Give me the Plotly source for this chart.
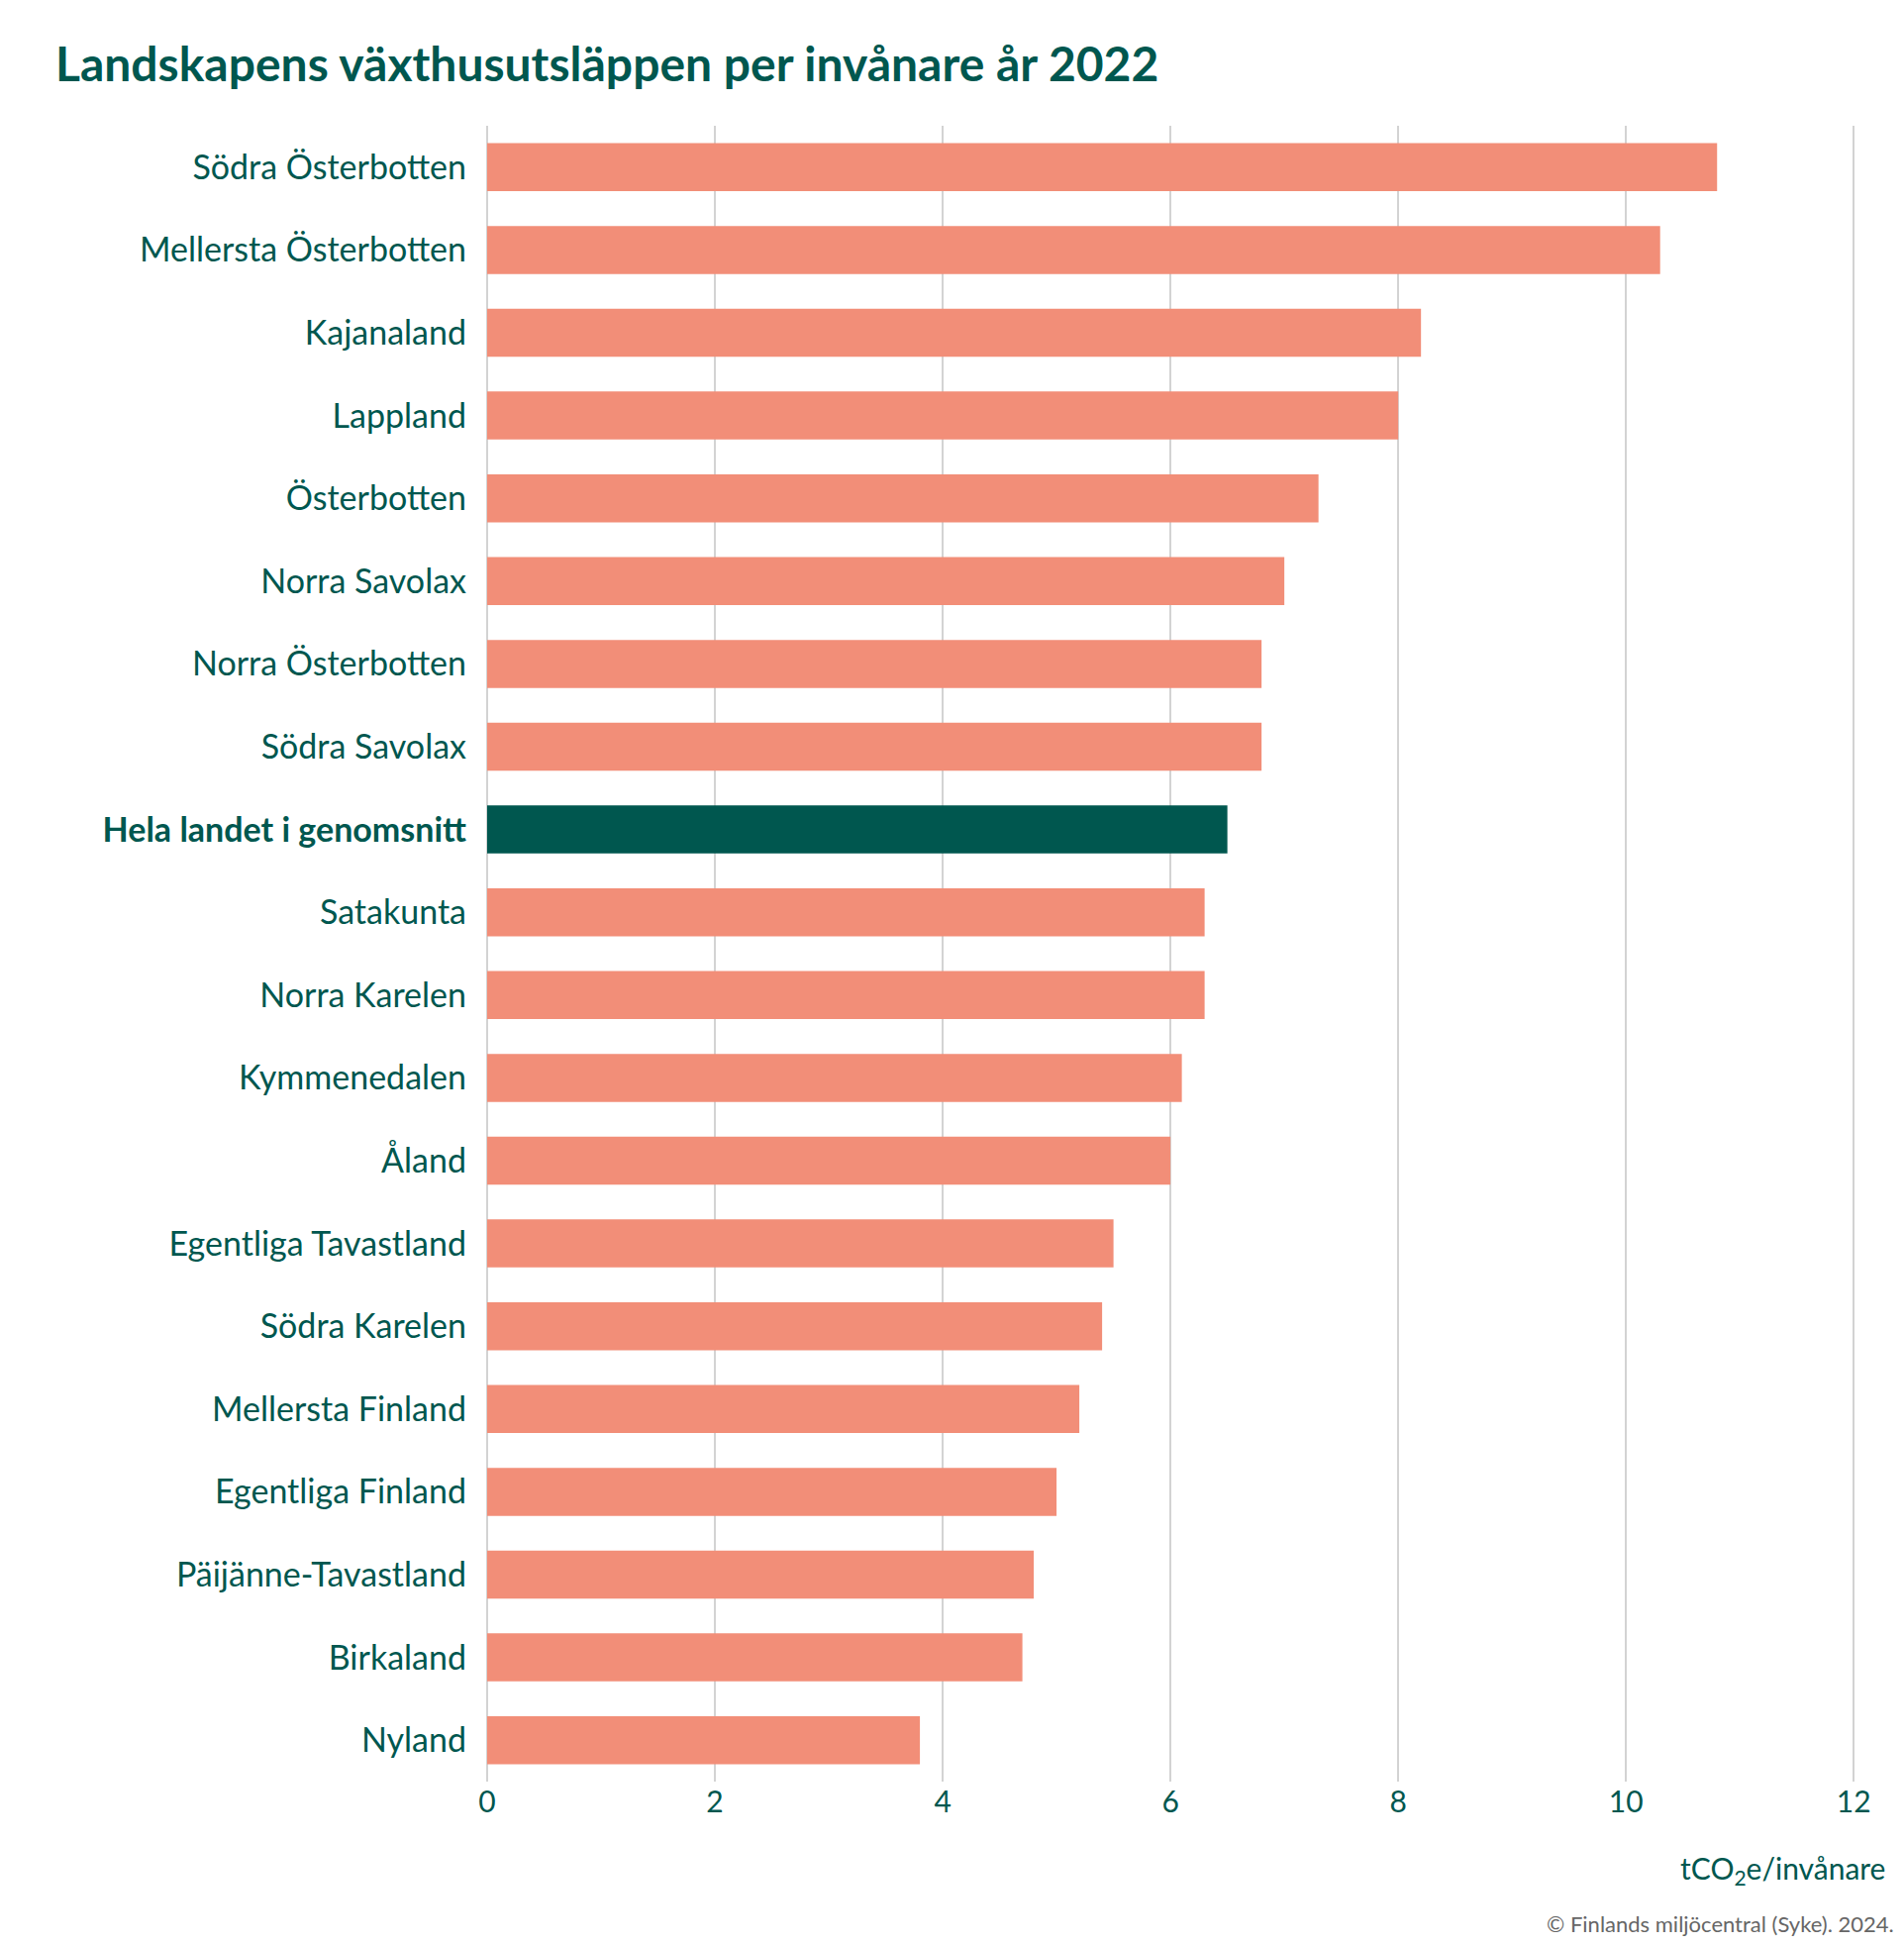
import plotly.graph_objects as go

REGIONS = [
    "Södra Österbotten", "Mellersta Österbotten", "Kajanaland", "Lappland",
    "Österbotten", "Norra Savolax", "Norra Österbotten", "Södra Savolax",
    "Hela landet i genomsnitt", "Satakunta", "Norra Karelen", "Kymmenedalen",
    "Åland", "Egentliga Tavastland", "Södra Karelen", "Mellersta Finland",
    "Egentliga Finland", "Päijänne-Tavastland", "Birkaland", "Nyland",
]
EMISSIONS = [10.8, 10.3, 8.2, 8.0, 7.3, 7.0, 6.8, 6.8, 6.5, 6.3, 6.3, 6.1,
             6.0, 5.5, 5.4, 5.2, 5.0, 4.8, 4.7, 3.8]
AVERAGE = "Hela landet i genomsnitt"
X_TICKS = [0, 2, 4, 6, 8, 10, 12]

TEAL = "#00574F"
SALMON = "#F28E78"

colors = [TEAL if r == AVERAGE else SALMON for r in REGIONS]
labels = [f"<b>{r}</b>" if r == AVERAGE else r for r in REGIONS]

fig = go.Figure(
    go.Bar(
        x=EMISSIONS,
        y=REGIONS,
        orientation="h",
        marker=dict(color=colors, line=dict(width=0)),
        hoverinfo="x+y",
    )
)

fig.update_yaxes(
    autorange="reversed",
    tickmode="array",
    tickvals=REGIONS,
    ticktext=labels,
    ticks="",
    ticklabelstandoff=20,
    tickfont=dict(size=34, color=TEAL),
    showgrid=False,
    showline=False,
)
fig.update_xaxes(
    range=[0, 12.05],
    tickvals=X_TICKS,
    showgrid=True,
    gridcolor="#D3D3D3",
    gridwidth=2,
    zeroline=True,
    zerolinecolor="#D3D3D3",
    zerolinewidth=2,
    tickfont=dict(size=30, color=TEAL),
)
fig.update_layout(
    width=1923,
    height=1964,
    bargap=0.42,
    plot_bgcolor="white",
    paper_bgcolor="white",
    font=dict(family="Lato, Open Sans, sans-serif", color=TEAL),
    margin=dict(l=484, r=53, t=119, b=173),
    title=dict(
        text="<b>Landskapens växthusutsläppen per invånare år 2022</b>",
        x=48 / 1923, xanchor="left", y=1 - 57 / 1964, yanchor="middle",
        font=dict(size=48, color=TEAL),
    ),
    annotations=[
        dict(
            text="tCO<sub>2</sub>e/invånare",
            xref="paper", yref="paper", x=1.02, y=-0.053,
            xanchor="right", yanchor="middle", showarrow=False,
            font=dict(size=30, color=TEAL),
        ),
        dict(
            text="© Finlands miljöcentral (Syke). 2024.",
            xref="paper", yref="paper", x=1.027, y=-0.086,
            xanchor="right", yanchor="middle", showarrow=False,
            font=dict(size=22, color="#666666"),
        ),
    ],
)

fig.write_html("out.html")
